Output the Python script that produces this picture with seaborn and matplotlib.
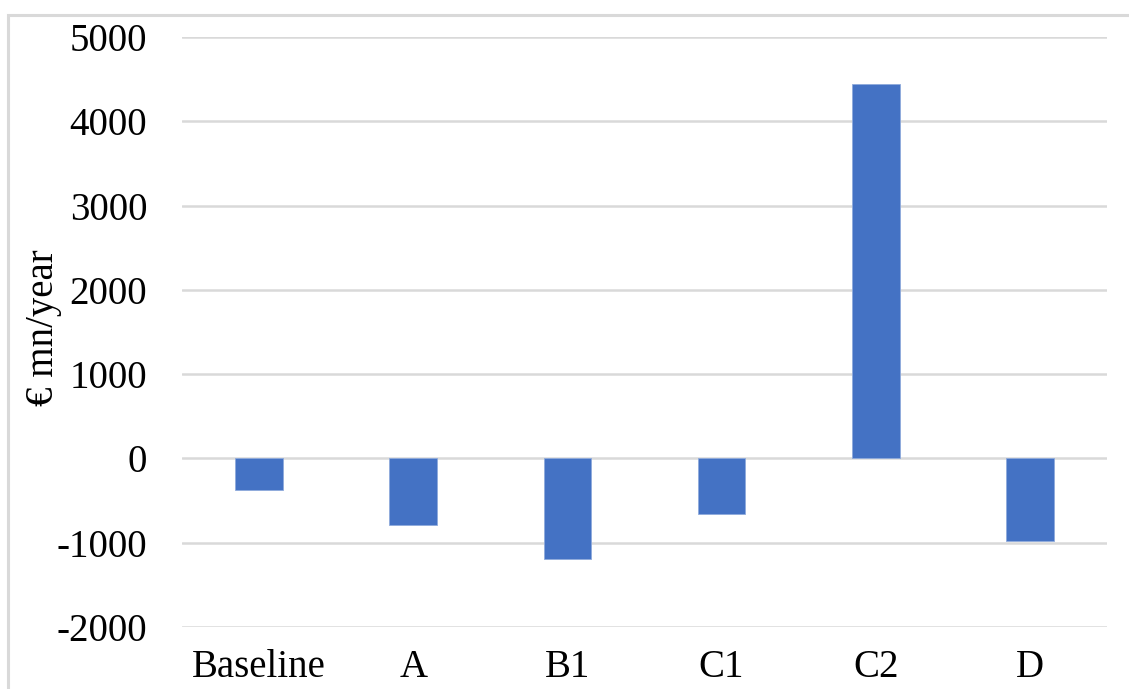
import matplotlib
matplotlib.use("Agg")
import matplotlib.pyplot as plt
from matplotlib.patches import Rectangle
import seaborn as sns
import pandas as pd

# Scenario results, € mn per year
scenarios = ["Baseline", "A", "B1", "C1", "C2", "D"]
values = [-380, -785, -1195, -660, 4445, -985]
y_ticks = [-2000, -1000, 0, 1000, 2000, 3000, 4000, 5000]

sns.set_theme(style="white")
plt.rcParams["font.family"] = ["Liberation Serif", "DejaVu Serif"]

df = pd.DataFrame({"scenario": scenarios, "value": values})

fig = plt.figure(figsize=(11.29, 6.89), dpi=100)
ax = fig.add_axes([182 / 1129, 1 - 627 / 689, (1107 - 182) / 1129, (627 - 37) / 689])

ax.set_axisbelow(True)
ax.yaxis.grid(True, color="#D9D9D9", linewidth=1.8)
ax.xaxis.grid(False)

sns.barplot(data=df, x="scenario", y="value", color="#4472C4", width=0.31,
            saturation=1, edgecolor="#8FAADC", linewidth=0.6, ax=ax)

ax.set_ylim(-2000, 5000)
ax.set_xlim(-0.5, len(scenarios) - 0.5)
ax.set_yticks(y_ticks)
ax.set_yticklabels([str(t) for t in y_ticks])
ax.tick_params(axis="y", length=0, pad=25, labelsize=28, labelcolor="black")
ax.tick_params(axis="x", length=0, pad=16, labelsize=28, labelcolor="black")
ax.set_xlabel("")
ax.set_ylabel("")
for s in ax.spines.values():
    s.set_visible(False)

fig.text(43 / 1129, 1 - 328 / 689, "€ mn/year", rotation=90, fontsize=28,
         color="black", ha="center", va="center")

# Light frame around the chart area
fig.patches.append(Rectangle((8 / 1129, -0.2), 1.2, 1.2 - 15 / 689,
                             transform=fig.transFigure, fill=False,
                             edgecolor="#D9D9D9", linewidth=2.2))

fig.savefig("out.png", dpi=100, facecolor="white")
